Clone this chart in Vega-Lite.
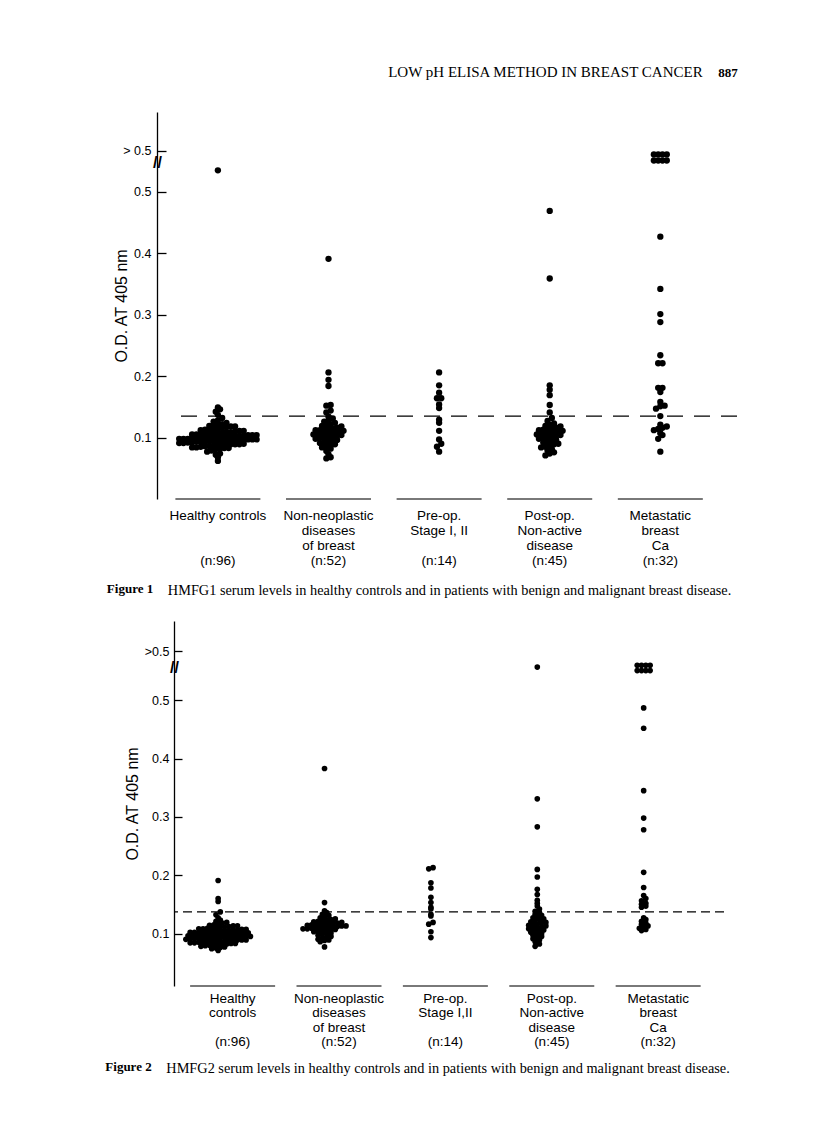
{
  "$schema": "https://vega.github.io/schema/vega-lite/v6.json",
  "background": "white",
  "padding": {"left": 105, "top": 65, "right": 10, "bottom": 10},
  "config": {"view": {"stroke": null}, "font": "Liberation Sans"},
  "title": {
    "text": "887",
    "anchor": "end",
    "orient": "top",
    "font": "Liberation Serif",
    "fontSize": 13,
    "fontWeight": "bold",
    "color": "black",
    "offset": 0,
    "dy": 15
  },
  "datasets": {
    "f1": [
      {"g": "Healthy controls", "od": 0.062}, {"g": "Healthy controls", "od": 0.068}, {"g": "Healthy controls", "od": 0.072}, {"g": "Healthy controls", "od": 0.074}, {"g": "Healthy controls", "od": 0.077}, {"g": "Healthy controls", "od": 0.079},
      {"g": "Healthy controls", "od": 0.081}, {"g": "Healthy controls", "od": 0.082}, {"g": "Healthy controls", "od": 0.083}, {"g": "Healthy controls", "od": 0.083}, {"g": "Healthy controls", "od": 0.084}, {"g": "Healthy controls", "od": 0.084},
      {"g": "Healthy controls", "od": 0.085}, {"g": "Healthy controls", "od": 0.086}, {"g": "Healthy controls", "od": 0.086}, {"g": "Healthy controls", "od": 0.087}, {"g": "Healthy controls", "od": 0.087}, {"g": "Healthy controls", "od": 0.088}, {"g": "Healthy controls", "od": 0.088}, {"g": "Healthy controls", "od": 0.089}, {"g": "Healthy controls", "od": 0.089}, {"g": "Healthy controls", "od": 0.089},
      {"g": "Healthy controls", "od": 0.090}, {"g": "Healthy controls", "od": 0.091}, {"g": "Healthy controls", "od": 0.091}, {"g": "Healthy controls", "od": 0.092}, {"g": "Healthy controls", "od": 0.092}, {"g": "Healthy controls", "od": 0.093}, {"g": "Healthy controls", "od": 0.093}, {"g": "Healthy controls", "od": 0.093}, {"g": "Healthy controls", "od": 0.094}, {"g": "Healthy controls", "od": 0.094}, {"g": "Healthy controls", "od": 0.094}, {"g": "Healthy controls", "od": 0.094},
      {"g": "Healthy controls", "od": 0.095}, {"g": "Healthy controls", "od": 0.095}, {"g": "Healthy controls", "od": 0.096}, {"g": "Healthy controls", "od": 0.096}, {"g": "Healthy controls", "od": 0.096}, {"g": "Healthy controls", "od": 0.097}, {"g": "Healthy controls", "od": 0.097}, {"g": "Healthy controls", "od": 0.097}, {"g": "Healthy controls", "od": 0.098}, {"g": "Healthy controls", "od": 0.098}, {"g": "Healthy controls", "od": 0.098}, {"g": "Healthy controls", "od": 0.099}, {"g": "Healthy controls", "od": 0.099}, {"g": "Healthy controls", "od": 0.099},
      {"g": "Healthy controls", "od": 0.100}, {"g": "Healthy controls", "od": 0.100}, {"g": "Healthy controls", "od": 0.101}, {"g": "Healthy controls", "od": 0.101}, {"g": "Healthy controls", "od": 0.101}, {"g": "Healthy controls", "od": 0.102}, {"g": "Healthy controls", "od": 0.102}, {"g": "Healthy controls", "od": 0.102}, {"g": "Healthy controls", "od": 0.103}, {"g": "Healthy controls", "od": 0.103}, {"g": "Healthy controls", "od": 0.104}, {"g": "Healthy controls", "od": 0.104}, {"g": "Healthy controls", "od": 0.104},
      {"g": "Healthy controls", "od": 0.105}, {"g": "Healthy controls", "od": 0.105}, {"g": "Healthy controls", "od": 0.106}, {"g": "Healthy controls", "od": 0.106}, {"g": "Healthy controls", "od": 0.107}, {"g": "Healthy controls", "od": 0.107}, {"g": "Healthy controls", "od": 0.108}, {"g": "Healthy controls", "od": 0.108}, {"g": "Healthy controls", "od": 0.109}, {"g": "Healthy controls", "od": 0.109},
      {"g": "Healthy controls", "od": 0.110}, {"g": "Healthy controls", "od": 0.111}, {"g": "Healthy controls", "od": 0.111}, {"g": "Healthy controls", "od": 0.112}, {"g": "Healthy controls", "od": 0.113}, {"g": "Healthy controls", "od": 0.113}, {"g": "Healthy controls", "od": 0.114},
      {"g": "Healthy controls", "od": 0.115}, {"g": "Healthy controls", "od": 0.116}, {"g": "Healthy controls", "od": 0.117}, {"g": "Healthy controls", "od": 0.118}, {"g": "Healthy controls", "od": 0.118}, {"g": "Healthy controls", "od": 0.119},
      {"g": "Healthy controls", "od": 0.120}, {"g": "Healthy controls", "od": 0.121}, {"g": "Healthy controls", "od": 0.122}, {"g": "Healthy controls", "od": 0.124},
      {"g": "Healthy controls", "od": 0.126}, {"g": "Healthy controls", "od": 0.128}, {"g": "Healthy controls", "od": 0.132}, {"g": "Healthy controls", "od": 0.137}, {"g": "Healthy controls", "od": 0.142}, {"g": "Healthy controls", "od": 0.146}, {"g": "Healthy controls", "od": 0.149},
      {"g": "Healthy controls", "od": 0.535},

      {"g": "Non-neoplastic diseases of breast", "od": 0.066}, {"g": "Non-neoplastic diseases of breast", "od": 0.068}, {"g": "Non-neoplastic diseases of breast", "od": 0.073}, {"g": "Non-neoplastic diseases of breast", "od": 0.078},
      {"g": "Non-neoplastic diseases of breast", "od": 0.082}, {"g": "Non-neoplastic diseases of breast", "od": 0.084}, {"g": "Non-neoplastic diseases of breast", "od": 0.086}, {"g": "Non-neoplastic diseases of breast", "od": 0.087}, {"g": "Non-neoplastic diseases of breast", "od": 0.089},
      {"g": "Non-neoplastic diseases of breast", "od": 0.091}, {"g": "Non-neoplastic diseases of breast", "od": 0.092}, {"g": "Non-neoplastic diseases of breast", "od": 0.094},
      {"g": "Non-neoplastic diseases of breast", "od": 0.095}, {"g": "Non-neoplastic diseases of breast", "od": 0.096}, {"g": "Non-neoplastic diseases of breast", "od": 0.098}, {"g": "Non-neoplastic diseases of breast", "od": 0.099},
      {"g": "Non-neoplastic diseases of breast", "od": 0.100}, {"g": "Non-neoplastic diseases of breast", "od": 0.101}, {"g": "Non-neoplastic diseases of breast", "od": 0.102}, {"g": "Non-neoplastic diseases of breast", "od": 0.103}, {"g": "Non-neoplastic diseases of breast", "od": 0.104},
      {"g": "Non-neoplastic diseases of breast", "od": 0.105}, {"g": "Non-neoplastic diseases of breast", "od": 0.106}, {"g": "Non-neoplastic diseases of breast", "od": 0.107}, {"g": "Non-neoplastic diseases of breast", "od": 0.107}, {"g": "Non-neoplastic diseases of breast", "od": 0.108}, {"g": "Non-neoplastic diseases of breast", "od": 0.109},
      {"g": "Non-neoplastic diseases of breast", "od": 0.110}, {"g": "Non-neoplastic diseases of breast", "od": 0.111}, {"g": "Non-neoplastic diseases of breast", "od": 0.112}, {"g": "Non-neoplastic diseases of breast", "od": 0.112}, {"g": "Non-neoplastic diseases of breast", "od": 0.113}, {"g": "Non-neoplastic diseases of breast", "od": 0.114},
      {"g": "Non-neoplastic diseases of breast", "od": 0.115}, {"g": "Non-neoplastic diseases of breast", "od": 0.116}, {"g": "Non-neoplastic diseases of breast", "od": 0.118}, {"g": "Non-neoplastic diseases of breast", "od": 0.119},
      {"g": "Non-neoplastic diseases of breast", "od": 0.120}, {"g": "Non-neoplastic diseases of breast", "od": 0.122}, {"g": "Non-neoplastic diseases of breast", "od": 0.124},
      {"g": "Non-neoplastic diseases of breast", "od": 0.126}, {"g": "Non-neoplastic diseases of breast", "od": 0.128}, {"g": "Non-neoplastic diseases of breast", "od": 0.131}, {"g": "Non-neoplastic diseases of breast", "od": 0.134},
      {"g": "Non-neoplastic diseases of breast", "od": 0.141}, {"g": "Non-neoplastic diseases of breast", "od": 0.144}, {"g": "Non-neoplastic diseases of breast", "od": 0.152}, {"g": "Non-neoplastic diseases of breast", "od": 0.153},
      {"g": "Non-neoplastic diseases of breast", "od": 0.184}, {"g": "Non-neoplastic diseases of breast", "od": 0.194}, {"g": "Non-neoplastic diseases of breast", "od": 0.206}, {"g": "Non-neoplastic diseases of breast", "od": 0.391},

      {"g": "Pre-op. Stage I, II", "od": 0.077}, {"g": "Pre-op. Stage I, II", "od": 0.085}, {"g": "Pre-op. Stage I, II", "od": 0.090}, {"g": "Pre-op. Stage I, II", "od": 0.097}, {"g": "Pre-op. Stage I, II", "od": 0.111}, {"g": "Pre-op. Stage I, II", "od": 0.124}, {"g": "Pre-op. Stage I, II", "od": 0.129},
      {"g": "Pre-op. Stage I, II", "od": 0.148}, {"g": "Pre-op. Stage I, II", "od": 0.154}, {"g": "Pre-op. Stage I, II", "od": 0.164}, {"g": "Pre-op. Stage I, II", "od": 0.164}, {"g": "Pre-op. Stage I, II", "od": 0.173}, {"g": "Pre-op. Stage I, II", "od": 0.185}, {"g": "Pre-op. Stage I, II", "od": 0.206},

      {"g": "Post-op. Non-active disease", "od": 0.071}, {"g": "Post-op. Non-active disease", "od": 0.074}, {"g": "Post-op. Non-active disease", "od": 0.076}, {"g": "Post-op. Non-active disease", "od": 0.079}, {"g": "Post-op. Non-active disease", "od": 0.081}, {"g": "Post-op. Non-active disease", "od": 0.084},
      {"g": "Post-op. Non-active disease", "od": 0.085}, {"g": "Post-op. Non-active disease", "od": 0.087}, {"g": "Post-op. Non-active disease", "od": 0.089}, {"g": "Post-op. Non-active disease", "od": 0.090}, {"g": "Post-op. Non-active disease", "od": 0.092}, {"g": "Post-op. Non-active disease", "od": 0.094},
      {"g": "Post-op. Non-active disease", "od": 0.095}, {"g": "Post-op. Non-active disease", "od": 0.096}, {"g": "Post-op. Non-active disease", "od": 0.098}, {"g": "Post-op. Non-active disease", "od": 0.099},
      {"g": "Post-op. Non-active disease", "od": 0.100}, {"g": "Post-op. Non-active disease", "od": 0.101}, {"g": "Post-op. Non-active disease", "od": 0.103}, {"g": "Post-op. Non-active disease", "od": 0.104},
      {"g": "Post-op. Non-active disease", "od": 0.105}, {"g": "Post-op. Non-active disease", "od": 0.106}, {"g": "Post-op. Non-active disease", "od": 0.107}, {"g": "Post-op. Non-active disease", "od": 0.108}, {"g": "Post-op. Non-active disease", "od": 0.109},
      {"g": "Post-op. Non-active disease", "od": 0.110}, {"g": "Post-op. Non-active disease", "od": 0.111}, {"g": "Post-op. Non-active disease", "od": 0.112}, {"g": "Post-op. Non-active disease", "od": 0.113}, {"g": "Post-op. Non-active disease", "od": 0.114},
      {"g": "Post-op. Non-active disease", "od": 0.115}, {"g": "Post-op. Non-active disease", "od": 0.116}, {"g": "Post-op. Non-active disease", "od": 0.118}, {"g": "Post-op. Non-active disease", "od": 0.119},
      {"g": "Post-op. Non-active disease", "od": 0.121}, {"g": "Post-op. Non-active disease", "od": 0.123}, {"g": "Post-op. Non-active disease", "od": 0.127}, {"g": "Post-op. Non-active disease", "od": 0.132}, {"g": "Post-op. Non-active disease", "od": 0.141},
      {"g": "Post-op. Non-active disease", "od": 0.153}, {"g": "Post-op. Non-active disease", "od": 0.169}, {"g": "Post-op. Non-active disease", "od": 0.178}, {"g": "Post-op. Non-active disease", "od": 0.185}, {"g": "Post-op. Non-active disease", "od": 0.359}, {"g": "Post-op. Non-active disease", "od": 0.469},

      {"g": "Metastatic breast Ca", "od": 0.551}, {"g": "Metastatic breast Ca", "od": 0.551}, {"g": "Metastatic breast Ca", "od": 0.551}, {"g": "Metastatic breast Ca", "od": 0.551},
      {"g": "Metastatic breast Ca", "od": 0.561}, {"g": "Metastatic breast Ca", "od": 0.561}, {"g": "Metastatic breast Ca", "od": 0.561}, {"g": "Metastatic breast Ca", "od": 0.561},
      {"g": "Metastatic breast Ca", "od": 0.427}, {"g": "Metastatic breast Ca", "od": 0.342}, {"g": "Metastatic breast Ca", "od": 0.301}, {"g": "Metastatic breast Ca", "od": 0.288}, {"g": "Metastatic breast Ca", "od": 0.234}, {"g": "Metastatic breast Ca", "od": 0.221}, {"g": "Metastatic breast Ca", "od": 0.221},
      {"g": "Metastatic breast Ca", "od": 0.181}, {"g": "Metastatic breast Ca", "od": 0.181}, {"g": "Metastatic breast Ca", "od": 0.174}, {"g": "Metastatic breast Ca", "od": 0.158}, {"g": "Metastatic breast Ca", "od": 0.152}, {"g": "Metastatic breast Ca", "od": 0.151}, {"g": "Metastatic breast Ca", "od": 0.147},
      {"g": "Metastatic breast Ca", "od": 0.135}, {"g": "Metastatic breast Ca", "od": 0.121}, {"g": "Metastatic breast Ca", "od": 0.118}, {"g": "Metastatic breast Ca", "od": 0.116}, {"g": "Metastatic breast Ca", "od": 0.114}, {"g": "Metastatic breast Ca", "od": 0.112}, {"g": "Metastatic breast Ca", "od": 0.107}, {"g": "Metastatic breast Ca", "od": 0.104}, {"g": "Metastatic breast Ca", "od": 0.098}, {"g": "Metastatic breast Ca", "od": 0.077}
    ],
    "f2": [
      {"g": "Healthy controls", "od": 0.071}, {"g": "Healthy controls", "od": 0.074},
      {"g": "Healthy controls", "od": 0.075}, {"g": "Healthy controls", "od": 0.076}, {"g": "Healthy controls", "od": 0.077}, {"g": "Healthy controls", "od": 0.078}, {"g": "Healthy controls", "od": 0.079},
      {"g": "Healthy controls", "od": 0.080}, {"g": "Healthy controls", "od": 0.081}, {"g": "Healthy controls", "od": 0.081}, {"g": "Healthy controls", "od": 0.082}, {"g": "Healthy controls", "od": 0.082}, {"g": "Healthy controls", "od": 0.083}, {"g": "Healthy controls", "od": 0.083}, {"g": "Healthy controls", "od": 0.084}, {"g": "Healthy controls", "od": 0.084},
      {"g": "Healthy controls", "od": 0.085}, {"g": "Healthy controls", "od": 0.085}, {"g": "Healthy controls", "od": 0.086}, {"g": "Healthy controls", "od": 0.086}, {"g": "Healthy controls", "od": 0.087}, {"g": "Healthy controls", "od": 0.087}, {"g": "Healthy controls", "od": 0.087}, {"g": "Healthy controls", "od": 0.088}, {"g": "Healthy controls", "od": 0.088}, {"g": "Healthy controls", "od": 0.089}, {"g": "Healthy controls", "od": 0.089}, {"g": "Healthy controls", "od": 0.089},
      {"g": "Healthy controls", "od": 0.090}, {"g": "Healthy controls", "od": 0.090}, {"g": "Healthy controls", "od": 0.091}, {"g": "Healthy controls", "od": 0.091}, {"g": "Healthy controls", "od": 0.091}, {"g": "Healthy controls", "od": 0.092}, {"g": "Healthy controls", "od": 0.092}, {"g": "Healthy controls", "od": 0.092}, {"g": "Healthy controls", "od": 0.093}, {"g": "Healthy controls", "od": 0.093}, {"g": "Healthy controls", "od": 0.093}, {"g": "Healthy controls", "od": 0.094}, {"g": "Healthy controls", "od": 0.094}, {"g": "Healthy controls", "od": 0.094},
      {"g": "Healthy controls", "od": 0.095}, {"g": "Healthy controls", "od": 0.095}, {"g": "Healthy controls", "od": 0.096}, {"g": "Healthy controls", "od": 0.096}, {"g": "Healthy controls", "od": 0.096}, {"g": "Healthy controls", "od": 0.097}, {"g": "Healthy controls", "od": 0.097}, {"g": "Healthy controls", "od": 0.097}, {"g": "Healthy controls", "od": 0.098}, {"g": "Healthy controls", "od": 0.098}, {"g": "Healthy controls", "od": 0.099}, {"g": "Healthy controls", "od": 0.099}, {"g": "Healthy controls", "od": 0.099},
      {"g": "Healthy controls", "od": 0.100}, {"g": "Healthy controls", "od": 0.100}, {"g": "Healthy controls", "od": 0.101}, {"g": "Healthy controls", "od": 0.101}, {"g": "Healthy controls", "od": 0.102}, {"g": "Healthy controls", "od": 0.102}, {"g": "Healthy controls", "od": 0.102}, {"g": "Healthy controls", "od": 0.103}, {"g": "Healthy controls", "od": 0.103}, {"g": "Healthy controls", "od": 0.104}, {"g": "Healthy controls", "od": 0.104}, {"g": "Healthy controls", "od": 0.104},
      {"g": "Healthy controls", "od": 0.105}, {"g": "Healthy controls", "od": 0.105}, {"g": "Healthy controls", "od": 0.106}, {"g": "Healthy controls", "od": 0.106}, {"g": "Healthy controls", "od": 0.107}, {"g": "Healthy controls", "od": 0.107}, {"g": "Healthy controls", "od": 0.108}, {"g": "Healthy controls", "od": 0.108}, {"g": "Healthy controls", "od": 0.109}, {"g": "Healthy controls", "od": 0.109},
      {"g": "Healthy controls", "od": 0.110}, {"g": "Healthy controls", "od": 0.111}, {"g": "Healthy controls", "od": 0.111}, {"g": "Healthy controls", "od": 0.112}, {"g": "Healthy controls", "od": 0.113}, {"g": "Healthy controls", "od": 0.113}, {"g": "Healthy controls", "od": 0.114},
      {"g": "Healthy controls", "od": 0.115}, {"g": "Healthy controls", "od": 0.116}, {"g": "Healthy controls", "od": 0.118}, {"g": "Healthy controls", "od": 0.119},
      {"g": "Healthy controls", "od": 0.121}, {"g": "Healthy controls", "od": 0.123}, {"g": "Healthy controls", "od": 0.127}, {"g": "Healthy controls", "od": 0.132}, {"g": "Healthy controls", "od": 0.137},
      {"g": "Healthy controls", "od": 0.155}, {"g": "Healthy controls", "od": 0.160}, {"g": "Healthy controls", "od": 0.191},

      {"g": "Non-neoplastic diseases of breast", "od": 0.077}, {"g": "Non-neoplastic diseases of breast", "od": 0.086}, {"g": "Non-neoplastic diseases of breast", "od": 0.088}, {"g": "Non-neoplastic diseases of breast", "od": 0.089},
      {"g": "Non-neoplastic diseases of breast", "od": 0.090}, {"g": "Non-neoplastic diseases of breast", "od": 0.092}, {"g": "Non-neoplastic diseases of breast", "od": 0.094},
      {"g": "Non-neoplastic diseases of breast", "od": 0.095}, {"g": "Non-neoplastic diseases of breast", "od": 0.097}, {"g": "Non-neoplastic diseases of breast", "od": 0.099},
      {"g": "Non-neoplastic diseases of breast", "od": 0.100}, {"g": "Non-neoplastic diseases of breast", "od": 0.101}, {"g": "Non-neoplastic diseases of breast", "od": 0.103}, {"g": "Non-neoplastic diseases of breast", "od": 0.104},
      {"g": "Non-neoplastic diseases of breast", "od": 0.105}, {"g": "Non-neoplastic diseases of breast", "od": 0.106}, {"g": "Non-neoplastic diseases of breast", "od": 0.106}, {"g": "Non-neoplastic diseases of breast", "od": 0.107}, {"g": "Non-neoplastic diseases of breast", "od": 0.108}, {"g": "Non-neoplastic diseases of breast", "od": 0.108}, {"g": "Non-neoplastic diseases of breast", "od": 0.109},
      {"g": "Non-neoplastic diseases of breast", "od": 0.110}, {"g": "Non-neoplastic diseases of breast", "od": 0.110}, {"g": "Non-neoplastic diseases of breast", "od": 0.111}, {"g": "Non-neoplastic diseases of breast", "od": 0.111}, {"g": "Non-neoplastic diseases of breast", "od": 0.112}, {"g": "Non-neoplastic diseases of breast", "od": 0.112}, {"g": "Non-neoplastic diseases of breast", "od": 0.113}, {"g": "Non-neoplastic diseases of breast", "od": 0.113}, {"g": "Non-neoplastic diseases of breast", "od": 0.114},
      {"g": "Non-neoplastic diseases of breast", "od": 0.115}, {"g": "Non-neoplastic diseases of breast", "od": 0.115}, {"g": "Non-neoplastic diseases of breast", "od": 0.116}, {"g": "Non-neoplastic diseases of breast", "od": 0.116}, {"g": "Non-neoplastic diseases of breast", "od": 0.117}, {"g": "Non-neoplastic diseases of breast", "od": 0.118}, {"g": "Non-neoplastic diseases of breast", "od": 0.118}, {"g": "Non-neoplastic diseases of breast", "od": 0.119},
      {"g": "Non-neoplastic diseases of breast", "od": 0.120}, {"g": "Non-neoplastic diseases of breast", "od": 0.121}, {"g": "Non-neoplastic diseases of breast", "od": 0.122}, {"g": "Non-neoplastic diseases of breast", "od": 0.123}, {"g": "Non-neoplastic diseases of breast", "od": 0.124},
      {"g": "Non-neoplastic diseases of breast", "od": 0.125}, {"g": "Non-neoplastic diseases of breast", "od": 0.127}, {"g": "Non-neoplastic diseases of breast", "od": 0.129}, {"g": "Non-neoplastic diseases of breast", "od": 0.131}, {"g": "Non-neoplastic diseases of breast", "od": 0.133},
      {"g": "Non-neoplastic diseases of breast", "od": 0.136}, {"g": "Non-neoplastic diseases of breast", "od": 0.139}, {"g": "Non-neoplastic diseases of breast", "od": 0.153}, {"g": "Non-neoplastic diseases of breast", "od": 0.383},

      {"g": "Pre-op. Stage I, II", "od": 0.093}, {"g": "Pre-op. Stage I, II", "od": 0.103}, {"g": "Pre-op. Stage I, II", "od": 0.116}, {"g": "Pre-op. Stage I, II", "od": 0.119}, {"g": "Pre-op. Stage I, II", "od": 0.130}, {"g": "Pre-op. Stage I, II", "od": 0.133}, {"g": "Pre-op. Stage I, II", "od": 0.142},
      {"g": "Pre-op. Stage I, II", "od": 0.145}, {"g": "Pre-op. Stage I, II", "od": 0.153}, {"g": "Pre-op. Stage I, II", "od": 0.162}, {"g": "Pre-op. Stage I, II", "od": 0.178}, {"g": "Pre-op. Stage I, II", "od": 0.187}, {"g": "Pre-op. Stage I, II", "od": 0.211}, {"g": "Pre-op. Stage I, II", "od": 0.213},

      {"g": "Post-op. Non-active disease", "od": 0.078}, {"g": "Post-op. Non-active disease", "od": 0.082}, {"g": "Post-op. Non-active disease", "od": 0.086}, {"g": "Post-op. Non-active disease", "od": 0.089}, {"g": "Post-op. Non-active disease", "od": 0.091}, {"g": "Post-op. Non-active disease", "od": 0.093},
      {"g": "Post-op. Non-active disease", "od": 0.095}, {"g": "Post-op. Non-active disease", "od": 0.097}, {"g": "Post-op. Non-active disease", "od": 0.099}, {"g": "Post-op. Non-active disease", "od": 0.100}, {"g": "Post-op. Non-active disease", "od": 0.102}, {"g": "Post-op. Non-active disease", "od": 0.104},
      {"g": "Post-op. Non-active disease", "od": 0.105}, {"g": "Post-op. Non-active disease", "od": 0.106}, {"g": "Post-op. Non-active disease", "od": 0.108}, {"g": "Post-op. Non-active disease", "od": 0.109},
      {"g": "Post-op. Non-active disease", "od": 0.110}, {"g": "Post-op. Non-active disease", "od": 0.111}, {"g": "Post-op. Non-active disease", "od": 0.113}, {"g": "Post-op. Non-active disease", "od": 0.114},
      {"g": "Post-op. Non-active disease", "od": 0.115}, {"g": "Post-op. Non-active disease", "od": 0.116}, {"g": "Post-op. Non-active disease", "od": 0.118}, {"g": "Post-op. Non-active disease", "od": 0.119},
      {"g": "Post-op. Non-active disease", "od": 0.120}, {"g": "Post-op. Non-active disease", "od": 0.122}, {"g": "Post-op. Non-active disease", "od": 0.124}, {"g": "Post-op. Non-active disease", "od": 0.125}, {"g": "Post-op. Non-active disease", "od": 0.127}, {"g": "Post-op. Non-active disease", "od": 0.129},
      {"g": "Post-op. Non-active disease", "od": 0.131}, {"g": "Post-op. Non-active disease", "od": 0.133}, {"g": "Post-op. Non-active disease", "od": 0.136}, {"g": "Post-op. Non-active disease", "od": 0.138}, {"g": "Post-op. Non-active disease", "od": 0.142}, {"g": "Post-op. Non-active disease", "od": 0.147},
      {"g": "Post-op. Non-active disease", "od": 0.152}, {"g": "Post-op. Non-active disease", "od": 0.157}, {"g": "Post-op. Non-active disease", "od": 0.167},
      {"g": "Post-op. Non-active disease", "od": 0.176}, {"g": "Post-op. Non-active disease", "od": 0.197}, {"g": "Post-op. Non-active disease", "od": 0.210}, {"g": "Post-op. Non-active disease", "od": 0.283}, {"g": "Post-op. Non-active disease", "od": 0.331}, {"g": "Post-op. Non-active disease", "od": 0.557},

      {"g": "Metastatic breast Ca", "od": 0.551}, {"g": "Metastatic breast Ca", "od": 0.551}, {"g": "Metastatic breast Ca", "od": 0.551}, {"g": "Metastatic breast Ca", "od": 0.551},
      {"g": "Metastatic breast Ca", "od": 0.560}, {"g": "Metastatic breast Ca", "od": 0.560}, {"g": "Metastatic breast Ca", "od": 0.560}, {"g": "Metastatic breast Ca", "od": 0.560},
      {"g": "Metastatic breast Ca", "od": 0.487}, {"g": "Metastatic breast Ca", "od": 0.452}, {"g": "Metastatic breast Ca", "od": 0.345}, {"g": "Metastatic breast Ca", "od": 0.298}, {"g": "Metastatic breast Ca", "od": 0.278}, {"g": "Metastatic breast Ca", "od": 0.205}, {"g": "Metastatic breast Ca", "od": 0.179},
      {"g": "Metastatic breast Ca", "od": 0.165}, {"g": "Metastatic breast Ca", "od": 0.160}, {"g": "Metastatic breast Ca", "od": 0.156}, {"g": "Metastatic breast Ca", "od": 0.152}, {"g": "Metastatic breast Ca", "od": 0.150}, {"g": "Metastatic breast Ca", "od": 0.147}, {"g": "Metastatic breast Ca", "od": 0.145},
      {"g": "Metastatic breast Ca", "od": 0.127}, {"g": "Metastatic breast Ca", "od": 0.124}, {"g": "Metastatic breast Ca", "od": 0.121}, {"g": "Metastatic breast Ca", "od": 0.118}, {"g": "Metastatic breast Ca", "od": 0.116}, {"g": "Metastatic breast Ca", "od": 0.113}, {"g": "Metastatic breast Ca", "od": 0.111}, {"g": "Metastatic breast Ca", "od": 0.109}, {"g": "Metastatic breast Ca", "od": 0.107}, {"g": "Metastatic breast Ca", "od": 0.105}
    ]
  },
  "columns": 1,
  "concat": [
    {
      "title": {
        "text": "LOW pH ELISA METHOD IN BREAST CANCER",
        "anchor": "end",
        "orient": "top",
        "dx": -35,
        "offset": 32,
        "font": "Liberation Serif",
        "fontSize": 15,
        "fontWeight": "normal",
        "color": "black"
      },
      "columns": 1,
      "spacing": 23,
      "concat": [
        {
          "title": {
            "text": "Figure 1", "orient": "bottom", "anchor": "start", "dx": -7, "dy": -15, "offset": 0,
            "font": "Liberation Serif", "fontSize": 13, "fontWeight": "bold", "color": "black"
          },
          "columns": 1,
          "concat": [
            {
              "width": 563,
              "height": 387,
              "title": {
                "text": "HMFG1 serum levels in healthy controls and in patients with benign and malignant breast disease.",
                "orient": "bottom", "anchor": "start", "dx": 54, "offset": 17,
                "font": "Liberation Serif", "fontSize": 14.3, "fontWeight": "normal", "color": "black"
              },
              "resolve": {"axis": {"x": "independent"}},
              "layer": [
                {
                  "data": {"name": "f1"},
                  "transform": [
                    {"bin": {"step": 0.007}, "field": "od", "as": "ob"},
                    {"joinaggregate": [{"op": "count", "as": "n"}], "groupby": ["g", "ob"]},
                    {"window": [{"op": "row_number", "as": "r"}], "groupby": ["g", "ob"], "sort": [{"field": "od"}]},
                    {"calculate": "datum.r - (datum.n + 1) / 2", "as": "off"}
                  ],
                  "mark": {"type": "circle", "size": 40, "opacity": 1, "color": "black"},
                  "encoding": {
                    "x": {
                      "field": "g", "type": "nominal",
                      "scale": {"domain": ["Healthy controls", "Non-neoplastic diseases of breast", "Pre-op. Stage I, II", "Post-op. Non-active disease", "Metastatic breast Ca"], "paddingInner": 0.3, "paddingOuter": 0.195, "align": 0.12},
                      "axis": {
                        "orient": "bottom", "title": null, "domain": false, "ticks": false, "labelAngle": 0, "labelPadding": 9,
                        "labelFont": "Liberation Sans", "labelFontSize": 13.5, "labelColor": "black", "labelLineHeight": 15, "labelBaseline": "top", "labelOverlap": false, "labelBound": false,
                        "labelExpr": "datum.value == 'Healthy controls' ? 'Healthy controls' : datum.value == 'Non-neoplastic diseases of breast' ? ['Non-neoplastic', 'diseases', 'of breast'] : datum.value == 'Pre-op. Stage I, II' ? ['Pre-op.', 'Stage I, II'] : datum.value == 'Post-op. Non-active disease' ? ['Post-op.', 'Non-active', 'disease'] : ['Metastatic', 'breast', 'Ca']"
                      }
                    },
                    "xOffset": {"field": "off", "type": "quantitative", "scale": {"domain": [-6.35, 6.35]}},
                    "y": {
                      "field": "od", "type": "quantitative",
                      "scale": {"domain": [0, 0.63], "nice": false, "zero": false},
                      "axis": {
                        "title": "O.D. AT 405 nm", "offset": 17,
                        "values": [0.1, 0.2, 0.3, 0.4, 0.5, 0.548, 0.567],
                        "labelExpr": "datum.value == 0.567 ? '> 0.5' : datum.value == 0.548 ? '//' : format(datum.value, '.1f')",
                        "grid": false, "domainColor": "black", "domainWidth": 1.3,
                        "tickColor": "black", "tickWidth": 1.3, "tickSize": -9,
                        "tickOpacity": {"condition": {"test": "datum.value == 0.548", "value": 0}, "value": 1},
                        "labelAlign": {"condition": {"test": "datum.value == 0.548", "value": "center"}, "value": "right"},
                        "labelPadding": {"condition": {"test": "datum.value == 0.548", "value": 9}, "value": 15},
                        "labelFontWeight": {"condition": {"test": "datum.value == 0.548", "value": "bold"}, "value": "normal"},
                        "labelFontSize": {"condition": {"test": "datum.value == 0.548", "value": 16}, "value": 12.5},
                        "labelFont": "Liberation Sans", "labelColor": "black",
                        "labelOverlap": false, "labelBound": false,
                        "titleFont": "Liberation Sans", "titleFontSize": 16, "titleFontWeight": "normal", "titleColor": "black", "titlePadding": -7
                      }
                    }
                  }
                },
                {
                  "data": {"name": "f1"},
                  "transform": [{"aggregate": [{"op": "count", "as": "n"}], "groupby": ["g"]}],
                  "mark": {"type": "tick", "color": "black", "thickness": 1.5, "size": 85},
                  "encoding": {
                    "x": {
                      "field": "g", "type": "nominal",
                      "axis": {
                        "orient": "bottom", "offset": 45, "title": null, "domain": false, "ticks": false, "labelAngle": 0, "labelPadding": 9,
                        "labelFont": "Liberation Sans", "labelFontSize": 13.5, "labelColor": "black", "labelBaseline": "top", "labelOverlap": false, "labelBound": false,
                        "labelExpr": "'(n:' + (datum.value == 'Healthy controls' ? '96' : datum.value == 'Non-neoplastic diseases of breast' ? '52' : datum.value == 'Pre-op. Stage I, II' ? '14' : datum.value == 'Post-op. Non-active disease' ? '45' : '32') + ')'"
                      }
                    },
                    "y": {"datum": 0}
                  }
                },
                {
                  "data": {"values": [{"cutoff": 0.135}]},
                  "mark": {"type": "rule", "color": "black", "strokeWidth": 1.3, "strokeDash": [16, 11]},
                  "encoding": {"y": {"field": "cutoff", "type": "quantitative"}}
                }
              ]
            }
          ]
        },
        {
          "title": {
            "text": "Figure 2", "orient": "bottom", "anchor": "start", "dx": -19, "dy": -15, "offset": 0,
            "font": "Liberation Serif", "fontSize": 13, "fontWeight": "bold", "color": "black"
          },
          "columns": 1,
          "concat": [
            {
              "width": 550,
              "height": 365,
              "title": {
                "text": "HMFG2 serum levels in healthy controls and in patients with benign and malignant breast disease.",
                "orient": "bottom", "anchor": "start", "dx": 42, "offset": 14,
                "font": "Liberation Serif", "fontSize": 14.3, "fontWeight": "normal", "color": "black"
              },
              "resolve": {"axis": {"x": "independent"}},
              "layer": [
                {
                  "data": {"name": "f2"},
                  "transform": [
                    {"bin": {"step": 0.006}, "field": "od", "as": "ob"},
                    {"joinaggregate": [{"op": "count", "as": "n"}], "groupby": ["g", "ob"]},
                    {"window": [{"op": "row_number", "as": "r"}], "groupby": ["g", "ob"], "sort": [{"field": "od"}]},
                    {"calculate": "datum.r - (datum.n + 1) / 2", "as": "off"}
                  ],
                  "mark": {"type": "circle", "size": 32, "opacity": 1, "color": "black"},
                  "encoding": {
                    "x": {
                      "field": "g", "type": "nominal",
                      "scale": {"domain": ["Healthy controls", "Non-neoplastic diseases of breast", "Pre-op. Stage I, II", "Post-op. Non-active disease", "Metastatic breast Ca"], "paddingInner": 0, "paddingOuter": 0.085, "align": 0.3},
                      "axis": {
                        "orient": "bottom", "title": null, "domain": false, "ticks": false, "labelAngle": 0, "labelPadding": 5,
                        "labelFont": "Liberation Sans", "labelFontSize": 13.5, "labelColor": "black", "labelLineHeight": 14.5, "labelBaseline": "top", "labelOverlap": false, "labelBound": false,
                        "labelExpr": "datum.value == 'Healthy controls' ? ['Healthy', 'controls'] : datum.value == 'Non-neoplastic diseases of breast' ? ['Non-neoplastic', 'diseases', 'of breast'] : datum.value == 'Pre-op. Stage I, II' ? ['Pre-op.', 'Stage I,II'] : datum.value == 'Post-op. Non-active disease' ? ['Post-op.', 'Non-active', 'disease'] : ['Metastatic', 'breast', 'Ca']"
                      }
                    },
                    "xOffset": {"field": "off", "type": "quantitative", "scale": {"domain": [-9, 9]}},
                    "y": {
                      "field": "od", "type": "quantitative",
                      "scale": {"domain": [0.01, 0.636], "nice": false, "zero": false},
                      "axis": {
                        "title": "O.D. AT 405 nm",
                        "values": [0.1, 0.2, 0.3, 0.4, 0.5, 0.556, 0.584],
                        "labelExpr": "datum.value == 0.584 ? '>0.5' : datum.value == 0.556 ? '//' : format(datum.value, '.1f')",
                        "grid": false, "domainColor": "black", "domainWidth": 1.3,
                        "tickColor": "black", "tickWidth": 1.3, "tickSize": -8,
                        "tickOpacity": {"condition": {"test": "datum.value == 0.556", "value": 0}, "value": 1},
                        "labelAlign": {"condition": {"test": "datum.value == 0.556", "value": "center"}, "value": "right"},
                        "labelPadding": {"condition": {"test": "datum.value == 0.556", "value": 8}, "value": 13},
                        "labelFontWeight": {"condition": {"test": "datum.value == 0.556", "value": "bold"}, "value": "normal"},
                        "labelFontSize": {"condition": {"test": "datum.value == 0.556", "value": 16}, "value": 12.5},
                        "labelFont": "Liberation Sans", "labelColor": "black",
                        "labelOverlap": false, "labelBound": false,
                        "titleFont": "Liberation Sans", "titleFontSize": 16, "titleFontWeight": "normal", "titleColor": "black", "titlePadding": 4
                      }
                    }
                  }
                },
                {
                  "data": {"name": "f2"},
                  "transform": [{"aggregate": [{"op": "count", "as": "n"}], "groupby": ["g"]}],
                  "mark": {"type": "tick", "color": "black", "thickness": 1.5, "size": 85},
                  "encoding": {
                    "x": {
                      "field": "g", "type": "nominal",
                      "axis": {
                        "orient": "bottom", "offset": 43.5, "title": null, "domain": false, "ticks": false, "labelAngle": 0, "labelPadding": 5,
                        "labelFont": "Liberation Sans", "labelFontSize": 13.5, "labelColor": "black", "labelBaseline": "top", "labelOverlap": false, "labelBound": false,
                        "labelExpr": "'(n:' + (datum.value == 'Healthy controls' ? '96' : datum.value == 'Non-neoplastic diseases of breast' ? '52' : datum.value == 'Pre-op. Stage I, II' ? '14' : datum.value == 'Post-op. Non-active disease' ? '45' : '32') + ')'"
                      }
                    },
                    "y": {"datum": 0.01}
                  }
                },
                {
                  "data": {"values": [{"cutoff": 0.137}]},
                  "mark": {"type": "rule", "color": "black", "strokeWidth": 1.3, "strokeDash": [9, 5]},
                  "encoding": {"y": {"field": "cutoff", "type": "quantitative"}}
                }
              ]
            }
          ]
        }
      ]
    }
  ]
}
